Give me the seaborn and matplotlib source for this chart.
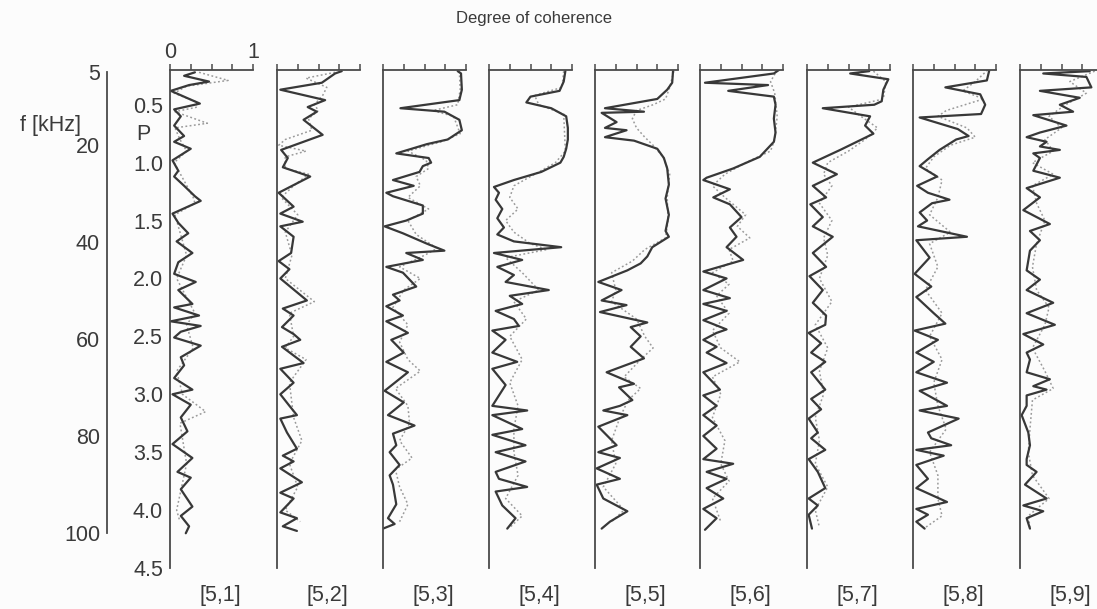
import matplotlib
matplotlib.use("Agg")
import matplotlib.pyplot as plt
import seaborn as sns

sns.set_style("white")
plt.rcParams['font.family'] = ['Liberation Sans', 'DejaVu Sans']

# ---------------- data ----------------
panel_labels = ["[5,1]", "[5,2]", "[5,3]", "[5,4]", "[5,5]", "[5,6]", "[5,7]", "[5,8]", "[5,9]"]
p_ticks = [0.5, 1.0, 1.5, 2.0, 2.5, 3.0, 3.5, 4.0, 4.5]
p_tick_labels = ["0.5", "1.0", "1.5", "2.0", "2.5", "3.0", "3.5", "4.0", "4.5"]
f_ticks = [5, 20, 40, 60, 80, 100]
coh_ticks = [0, 0.25, 0.5, 0.75, 1.0]
coh_tick_labels = ["0", "", "", "", "1"]

# (P, degree of coherence) vertices, solid curve
solid1 = [(0.22,0.30),(0.25,0.17),(0.30,0.47),(0.33,0.23),(0.38,0.01),(0.44,0.20),(0.49,0.36),(0.54,0.05),
          (0.60,0.13),(0.68,0.05),(0.77,0.17),(0.82,0.05),(0.88,0.25),(0.98,0.03),(1.07,0.10),(1.12,0.05),
          (1.20,0.17),(1.29,0.30),(1.33,0.37),(1.44,0.03),(1.52,0.10),(1.61,0.22),(1.68,0.08),(1.78,0.27),
          (1.86,0.10),(1.96,0.05),(2.03,0.31),(2.10,0.10),(2.22,0.27),(2.25,0.05),(2.32,0.35),(2.37,0.01),
          (2.41,0.37),(2.46,0.13),(2.51,0.05),(2.58,0.37),(2.68,0.13),(2.75,0.17),(2.86,0.05),(2.96,0.27),
          (3.00,0.03),(3.09,0.25),(3.20,0.13),(3.32,0.21),(3.43,0.03),(3.55,0.27),(3.67,0.09),(3.72,0.25),
          (3.82,0.13),(3.97,0.27),(4.05,0.13),(4.14,0.23),(4.20,0.19)]
solid2 = [(0.21,0.78),(0.23,0.70),(0.31,0.54),(0.37,0.04),(0.46,0.58),(0.52,0.37),(0.56,0.48),(0.63,0.32),
          (0.76,0.55),(0.89,0.05),(0.96,0.13),(1.04,0.07),(1.12,0.40),(1.26,0.02),(1.38,0.20),(1.44,0.04),
          (1.51,0.31),(1.55,0.04),(1.64,0.20),(1.78,0.17),(1.85,0.02),(1.92,0.15),(2.00,0.04),(2.19,0.36),
          (2.26,0.07),(2.32,0.20),(2.42,0.06),(2.48,0.20),(2.53,0.28),(2.59,0.06),(2.73,0.32),(2.78,0.04),
          (2.90,0.20),(3.00,0.04),(3.10,0.15),(3.18,0.24),(3.21,0.04),(3.33,0.12),(3.47,0.24),(3.53,0.07),
          (3.58,0.20),(3.64,0.04),(3.76,0.30),(3.85,0.04),(3.90,0.20),(4.02,0.04),(4.07,0.24),(4.14,0.07),
          (4.18,0.24)]
solid3 = [(0.21,0.90),(0.23,0.94),(0.37,0.95),(0.46,0.92),(0.53,0.21),(0.56,0.74),(0.63,0.92),(0.72,0.95),
          (0.80,0.78),(0.84,0.53),(0.92,0.16),(0.96,0.55),(1.00,0.58),(1.03,0.48),(1.08,0.44),(1.15,0.12),
          (1.20,0.37),(1.26,0.04),(1.29,0.12),(1.37,0.48),(1.44,0.48),(1.50,0.28),(1.55,0.02),(1.61,0.24),
          (1.70,0.53),(1.76,0.74),(1.78,0.28),(1.84,0.48),(1.90,0.04),(1.95,0.24),(2.07,0.40),(2.14,0.12),
          (2.19,0.20),(2.24,0.04),(2.32,0.24),(2.37,0.04),(2.43,0.20),(2.47,0.30),(2.53,0.10),(2.64,0.25),
          (2.72,0.04),(2.81,0.30),(2.97,0.02),(3.07,0.25),(3.18,0.06),(3.27,0.38),(3.34,0.12),(3.44,0.16),
          (3.50,0.08),(3.61,0.20),(3.70,0.08),(3.78,0.12),(3.95,0.16),(4.07,0.06),(4.12,0.14),(4.16,0.00)]
solid4 = [(0.21,0.92),(0.30,0.90),(0.38,0.85),(0.43,0.50),(0.48,0.45),(0.53,0.75),(0.60,0.93),(0.70,0.95),
          (0.80,0.95),(0.88,0.93),(0.95,0.90),(1.00,0.86),(1.08,0.63),(1.15,0.30),(1.21,0.06),(1.26,0.12),
          (1.32,0.08),(1.40,0.16),(1.48,0.10),(1.56,0.18),(1.62,0.10),(1.68,0.30),(1.73,0.87),(1.78,0.06),
          (1.84,0.40),(1.90,0.10),(1.97,0.30),(2.03,0.20),(2.10,0.72),(2.15,0.25),(2.22,0.40),(2.28,0.08),
          (2.35,0.30),(2.41,0.36),(2.45,0.04),(2.53,0.20),(2.64,0.04),(2.72,0.34),(2.78,0.04),(2.92,0.20),
          (3.10,0.04),(3.14,0.46),(3.18,0.04),(3.30,0.40),(3.35,0.04),(3.44,0.44),(3.50,0.08),(3.58,0.44),
          (3.67,0.08),(3.73,0.12),(3.80,0.46),(3.84,0.08),(3.96,0.16),(4.07,0.32),(4.16,0.22)]
solid5 = [(0.21,0.94),(0.31,0.93),(0.37,0.87),(0.45,0.75),(0.53,0.12),(0.56,0.59),(0.57,0.08),(0.65,0.26),
          (0.70,0.12),(0.72,0.38),(0.78,0.12),(0.81,0.47),(0.88,0.75),(0.96,0.83),(1.05,0.87),(1.19,0.89),
          (1.31,0.85),(1.45,0.89),(1.59,0.85),(1.64,0.89),(1.73,0.69),(1.81,0.63),(1.87,0.55),(1.93,0.39),
          (2.03,0.04),(2.10,0.32),(2.19,0.08),(2.23,0.38),(2.29,0.06),(2.38,0.63),(2.42,0.43),(2.50,0.55),
          (2.59,0.43),(2.69,0.59),(2.81,0.14),(2.91,0.47),(2.94,0.29),(3.05,0.45),(3.10,0.30),(3.14,0.10),
          (3.18,0.39),(3.28,0.04),(3.44,0.26),(3.50,0.04),(3.55,0.30),(3.64,0.02),(3.73,0.30),(3.78,0.02),
          (3.90,0.10),(4.01,0.39),(4.10,0.18),(4.16,0.08)]
solid6 = [(0.20,0.95),(0.23,0.89),(0.31,0.06),(0.33,0.82),(0.38,0.34),(0.43,0.89),(0.50,0.91),(0.62,0.89),
          (0.74,0.91),(0.82,0.89),(0.95,0.72),(1.05,0.40),(1.13,0.08),(1.15,0.04),(1.23,0.36),(1.30,0.16),
          (1.36,0.36),(1.47,0.50),(1.56,0.36),(1.64,0.44),(1.73,0.32),(1.84,0.52),(1.94,0.04),(2.00,0.32),
          (2.10,0.04),(2.17,0.36),(2.22,0.04),(2.28,0.32),(2.36,0.04),(2.44,0.32),(2.47,0.20),(2.53,0.04),
          (2.59,0.20),(2.64,0.08),(2.73,0.32),(2.81,0.04),(2.96,0.24),(3.01,0.04),(3.10,0.20),(3.18,0.04),
          (3.27,0.20),(3.36,0.04),(3.47,0.20),(3.56,0.04),(3.60,0.40),(3.67,0.08),(3.73,0.32),(3.81,0.08),
          (3.90,0.28),(3.99,0.04),(4.07,0.20),(4.17,0.06)]
solid7 = [(0.21,0.75),(0.23,0.52),(0.28,0.98),(0.37,0.92),(0.47,0.90),(0.50,0.81),(0.53,0.19),(0.60,0.76),
          (0.68,0.70),(0.75,0.80),(0.89,0.40),(1.00,0.07),(1.10,0.36),(1.20,0.07),(1.30,0.23),(1.36,0.04),
          (1.47,0.19),(1.55,0.07),(1.64,0.31),(1.78,0.07),(1.90,0.23),(1.98,0.03),(2.10,0.19),(2.21,0.07),
          (2.32,0.23),(2.40,0.22),(2.47,0.02),(2.56,0.17),(2.64,0.05),(2.72,0.22),(2.81,0.05),(2.96,0.22),
          (3.04,0.05),(3.13,0.17),(3.21,0.02),(3.33,0.13),(3.38,0.05),(3.48,0.22),(3.56,0.02),(3.67,0.13),
          (3.81,0.22),(3.90,0.02),(3.96,0.13),(4.04,0.02),(4.16,0.06)]
solid8 = [(0.20,0.92),(0.29,0.89),(0.35,0.39),(0.41,0.81),(0.50,0.87),(0.58,0.82),(0.61,0.08),(0.71,0.54),
          (0.77,0.67),(0.80,0.52),(0.89,0.32),(0.97,0.18),(1.03,0.08),(1.12,0.29),(1.20,0.05),(1.26,0.18),
          (1.32,0.44),(1.35,0.23),(1.43,0.08),(1.50,0.17),(1.55,0.06),(1.64,0.65),(1.67,0.04),(1.82,0.20),
          (1.96,0.02),(2.07,0.22),(2.16,0.04),(2.30,0.25),(2.39,0.39),(2.45,0.02),(2.53,0.30),(2.64,0.04),
          (2.72,0.25),(2.81,0.04),(2.90,0.41),(2.97,0.08),(3.10,0.41),(3.14,0.08),(3.21,0.55),(3.33,0.18),
          (3.38,0.22),(3.44,0.46),(3.48,0.04),(3.53,0.37),(3.61,0.04),(3.73,0.18),(3.81,0.04),(3.93,0.41),
          (3.99,0.04),(4.04,0.18),(4.10,0.04),(4.16,0.14)]
solid9 = [(0.21,0.84),(0.23,0.28),(0.26,0.80),(0.35,0.86),(0.38,0.24),(0.44,0.72),(0.50,0.48),(0.56,0.64),
          (0.59,0.16),(0.68,0.56),(0.74,0.24),(0.78,0.08),(0.82,0.32),(0.86,0.24),(0.89,0.48),(0.92,0.16),
          (0.96,0.24),(1.07,0.16),(1.13,0.48),(1.22,0.08),(1.30,0.24),(1.41,0.04),(1.53,0.36),(1.59,0.12),
          (1.67,0.24),(1.76,0.12),(1.93,0.08),(2.01,0.24),(2.10,0.08),(2.21,0.40),(2.30,0.08),(2.40,0.42),
          (2.48,0.04),(2.57,0.28),(2.64,0.08),(2.70,0.12),(2.81,0.08),(2.87,0.36),(2.93,0.16),(2.96,0.32),
          (3.01,0.08),(3.10,0.08),(3.18,0.02),(3.33,0.10),(3.44,0.12),(3.56,0.08),(3.61,0.08),(3.67,0.20),
          (3.78,0.06),(3.90,0.32),(3.96,0.04),(4.01,0.28),(4.07,0.08),(4.16,0.12)]

# (P, degree of coherence) vertices, dotted curve
dotted1 = [(0.22,0.35),(0.29,0.70),(0.34,0.20),(0.40,0.05),(0.47,0.30),(0.52,0.33),(0.56,0.06),(0.66,0.45),
           (0.70,0.06),(0.80,0.12),(0.90,0.20),(1.00,0.05),(1.30,0.28),(1.35,0.30),(1.45,0.06),(1.80,0.20),
           (2.00,0.08),(2.30,0.30),(2.40,0.20),(2.60,0.28),(2.80,0.08),(3.00,0.15),(3.15,0.43),(3.25,0.12),
           (3.60,0.20),(4.00,0.08),(4.10,0.12)]
dotted2 = [(0.22,0.70),(0.27,0.35),(0.35,0.60),(0.42,0.55),(0.50,0.45),(0.55,0.50),(0.62,0.38),(0.72,0.42),
           (0.80,0.10),(0.85,0.02),(0.90,0.35),(0.95,0.10),(1.05,0.10),(1.10,0.38),(1.20,0.20),(1.30,0.05),
           (1.45,0.25),(1.60,0.10),(1.80,0.18),(2.00,0.10),(2.20,0.45),(2.30,0.15),(2.50,0.20),(2.60,0.10),
           (2.70,0.35),(2.90,0.15),(3.20,0.20),(3.40,0.30),(3.60,0.15),(3.80,0.25),(4.00,0.10),(4.10,0.28)]
dotted3 = [(0.21,0.92),(0.37,0.93),(0.50,0.90),(0.55,0.60),(0.60,0.85),(0.75,0.93),(0.82,0.70),(0.90,0.30),
           (0.98,0.52),(1.05,0.55),(1.12,0.40),(1.20,0.45),(1.30,0.30),(1.40,0.55),(1.50,0.30),(1.62,0.40),
           (1.74,0.65),(1.80,0.50),(1.90,0.20),(2.00,0.45),(2.10,0.25),(2.25,0.12),(2.40,0.30),(2.55,0.20),
           (2.70,0.30),(2.80,0.45),(2.95,0.15),(3.10,0.30),(3.25,0.32),(3.40,0.20),(3.55,0.35),(3.65,0.15),
           (3.80,0.20),(3.95,0.30),(4.10,0.20)]
dotted4 = [(0.21,0.90),(0.35,0.88),(0.42,0.55),(0.50,0.60),(0.58,0.90),(0.90,0.92),(1.00,0.80),(1.10,0.55),
           (1.20,0.30),(1.30,0.25),(1.40,0.35),(1.50,0.20),(1.60,0.30),(1.70,0.50),(1.75,0.70),(1.82,0.20),
           (1.95,0.40),(2.10,0.60),(2.20,0.30),(2.35,0.45),(2.50,0.25),(2.70,0.40),(2.90,0.25),(3.10,0.35),
           (3.30,0.30),(3.50,0.30),(3.70,0.35),(3.90,0.20),(4.05,0.40),(4.15,0.25)]
dotted5 = [(0.21,0.95),(0.35,0.90),(0.45,0.85),(0.50,0.70),(0.55,0.50),(0.62,0.45),(0.70,0.50),(0.78,0.60),
           (0.85,0.70),(0.95,0.82),(1.10,0.90),(1.30,0.87),(1.50,0.88),(1.65,0.85),(1.75,0.60),(1.85,0.45),
           (1.95,0.20),(2.10,0.25),(2.20,0.20),(2.35,0.50),(2.50,0.60),(2.60,0.70),(2.70,0.55),(2.85,0.35),
           (2.95,0.55),(3.05,0.40),(3.20,0.30),(3.40,0.20),(3.60,0.25),(3.80,0.10),(4.00,0.35),(4.10,0.20)]
dotted6 = [(0.20,0.93),(0.30,0.85),(0.40,0.90),(0.60,0.93),(0.80,0.90),(0.90,0.85),(1.00,0.55),(1.10,0.30),
           (1.20,0.15),(1.30,0.30),(1.45,0.55),(1.55,0.45),(1.65,0.60),(1.75,0.35),(1.85,0.40),(1.95,0.15),
           (2.05,0.35),(2.15,0.20),(2.30,0.35),(2.45,0.15),(2.60,0.25),(2.72,0.48),(2.85,0.15),(3.00,0.25),
           (3.20,0.15),(3.40,0.30),(3.60,0.25),(3.75,0.35),(3.90,0.15),(4.10,0.25)]
dotted7 = [(0.21,0.80),(0.30,0.95),(0.45,0.92),(0.52,0.50),(0.60,0.65),(0.70,0.85),(0.80,0.70),(0.90,0.50),
           (1.00,0.25),(1.10,0.20),(1.20,0.30),(1.35,0.15),(1.50,0.30),(1.65,0.20),(1.80,0.25),(2.00,0.15),
           (2.20,0.30),(2.40,0.10),(2.60,0.25),(2.80,0.15),(3.00,0.20),(3.20,0.10),(3.40,0.15),(3.60,0.10),
           (3.80,0.25),(4.00,0.10),(4.15,0.15)]
dotted8 = [(0.20,0.90),(0.30,0.75),(0.38,0.60),(0.45,0.85),(0.55,0.40),(0.60,0.30),(0.70,0.65),(0.78,0.75),
           (0.85,0.45),(0.95,0.25),(1.05,0.15),(1.15,0.35),(1.30,0.30),(1.45,0.20),(1.60,0.45),(1.70,0.20),
           (1.90,0.30),(2.10,0.15),(2.30,0.35),(2.50,0.20),(2.70,0.35),(2.90,0.25),(3.10,0.30),(3.30,0.40),
           (3.50,0.20),(3.70,0.30),(3.90,0.30),(4.05,0.35),(4.15,0.15)]
dotted9 = [(0.21,0.90),(0.30,0.60),(0.40,0.80),(0.50,0.55),(0.60,0.35),(0.70,0.50),(0.80,0.30),(0.90,0.40),
           (1.00,0.15),(1.10,0.40),(1.20,0.15),(1.35,0.20),(1.50,0.30),(1.70,0.20),(1.90,0.15),(2.10,0.20),
           (2.25,0.35),(2.40,0.30),(2.60,0.15),(2.80,0.30),(2.95,0.40),(3.05,0.15),(3.30,0.12),(3.50,0.10),
           (3.70,0.15),(3.90,0.35),(4.05,0.10),(4.15,0.12)]

solids = [solid1, solid2, solid3, solid4, solid5, solid6, solid7, solid8, solid9]
dotteds = [dotted1, dotted2, dotted3, dotted4, dotted5, dotted6, dotted7, dotted8, dotted9]

# ---------------- layout ----------------
W, H = 1097, 609
fig = plt.figure(figsize=(W / 100, H / 100), dpi=100)
fig.patch.set_facecolor("#fcfcfc")

axc = "#4a4a4a"
solid_c = "#383838"
dot_c = "#9a9a9a"
txt_c = "#3a3a3a"
fs = 15.5

panel_left = [170, 277, 383, 489, 595, 700, 807, 913, 1020]
pw = 83
top_px, bot_px = 70, 568

def fx(px):
    return px / W

def fy(py):
    return 1 - py / H

for i, (left, sol, dot) in enumerate(zip(panel_left, solids, dotteds)):
    ax = fig.add_axes([fx(left), fy(bot_px), pw / W, (bot_px - top_px) / H])
    ax.set_facecolor("none")
    dp = [d[0] for d in dot]
    dv = [d[1] for d in dot]
    sp = [s[0] for s in sol]
    sv = [s[1] for s in sol]
    sns.lineplot(x=dv, y=dp, sort=False, estimator=None, ax=ax,
                 color=dot_c, lw=1.1, linestyle=(0, (1.2, 1.6)))
    sns.lineplot(x=sv, y=sp, sort=False, estimator=None, ax=ax,
                 color=solid_c, lw=1.6)
    ax.set_xlim(0, 1)
    ax.set_ylim(4.5, 0.2)
    for s in ["right", "bottom"]:
        ax.spines[s].set_visible(False)
    for s in ["left", "top"]:
        ax.spines[s].set_color(axc)
        ax.spines[s].set_linewidth(1.3)
    ax.xaxis.tick_top()
    ax.set_xticks(coh_ticks)
    ax.set_yticks(p_ticks)
    ax.tick_params(axis="both", direction="out", length=4, width=1.1, color=axc,
                   labelsize=fs, labelcolor=txt_c, pad=1)
    if i == 0:
        ax.set_xticklabels(coh_tick_labels)
        ax.set_yticklabels(p_tick_labels)
    else:
        ax.set_xticklabels([])
        ax.set_yticklabels([])
    ax.set_xlabel("")
    ax.set_ylabel("")
    fig.text(fx(left + 50), fy(595), panel_labels[i], ha="center", va="center",
             fontsize=fs, color=txt_c)

# frequency axis
axf = fig.add_axes([fx(107), fy(533), 0.001, (533 - 72) / H])
axf.set_facecolor("none")
axf.set_ylim(100, 5)
axf.set_xticks([])
axf.set_yticks(f_ticks)
axf.set_yticklabels([str(v) for v in f_ticks])
for s in ["right", "bottom", "top"]:
    axf.spines[s].set_visible(False)
axf.spines["left"].set_color(axc)
axf.spines["left"].set_linewidth(1.3)
axf.tick_params(axis="y", direction="out", length=4, width=1.1, color=axc,
                labelsize=fs, labelcolor=txt_c, pad=1)

fig.text(fx(50), fy(125), "f [kHz]", ha="center", va="center", fontsize=fs, color=txt_c)
fig.text(fx(143), fy(134), "P", ha="center", va="center", fontsize=fs, color=txt_c)
fig.text(fx(534), fy(19), "Degree of coherence", ha="center", va="center", fontsize=12, color=txt_c)

fig.savefig("out.png", dpi=100, facecolor=fig.get_facecolor())
